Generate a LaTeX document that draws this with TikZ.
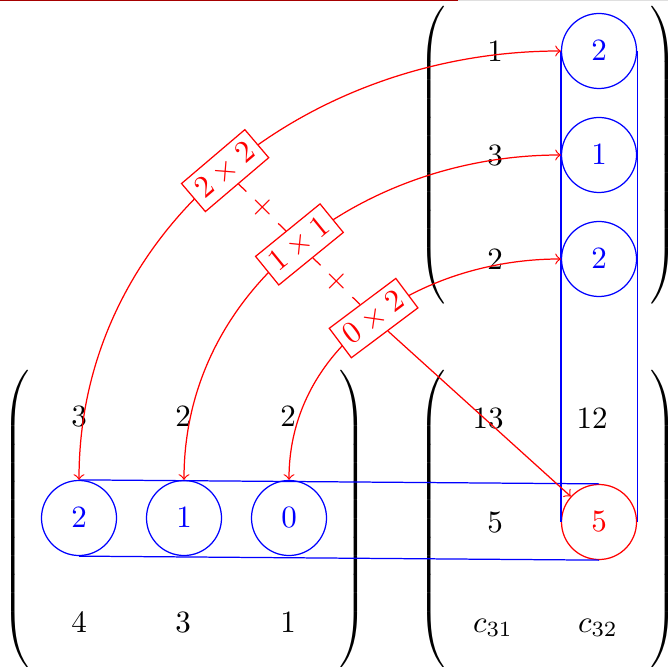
\documentclass[tikz,border=0pt]{standalone}
\usepackage{tikz}
\usepackage{xcolor}
\newcommand{\Parentesis}[2]{%
  $\nulldelimiterspace=0pt\delimitershortfall=0pt\delimiterfactor=1000
  \left#1\vcenter{\hbox{\rule{0pt}{95pt}}}\right#2$}

\begin{document}
\begin{tikzpicture}[x=0.3226pt,y=0.3226pt,
    parentesis/.style={inner sep=0pt},
    circA/.style={circle,draw=blue,text=blue,minimum size=24.2pt,inner sep=0pt},
    circC/.style={circle,draw=red,text=red,minimum size=24.2pt,inner sep=0pt},
    producto/.style={draw=red,text=red,fill=white,sloped,inner sep=2.3pt},
    suma/.style={text=red,fill=white,sloped},
    flecha/.style={red,<->}]
  \useasboundingbox (0,0) rectangle (668,666);
  \fill[red!65!black] (0,664.5) rectangle (458,666);
  \fill[gray!25] (458,664.5) rectangle (668,666);

  % matriz A
  \node[parentesis] (parA1) at (16,147) {\Parentesis{(}{.}};
  \node[parentesis] (parA2) at (353,147) {\Parentesis{.}{)}};
  \foreach \x/\valor/\nombre in {79/3/a11,183/2/a12,288/2/a13} {
    \node (\nombre) at (\x,249) {$\valor$};
  }
  \node[circA] (ca1) at (79,148) {$2$};
  \node[circA] (ca2) at (184,148) {$1$};
  \node[circA] (ca3) at (289,148) {$0$};
  \foreach \x/\valor/\nombre in {79/4/a31,183/3/a32,288/1/a33} {
    \node (\nombre) at (\x,43) {$\valor$};
  }

  % matriz B
  \node[parentesis] (parB1) at (432,511) {\Parentesis{(}{.}};
  \node[parentesis] (parB2) at (664,511) {\Parentesis{.}{)}};
  \node (b11) at (495,614) {$1$};
  \node (b21) at (495,510) {$3$};
  \node (b31) at (495,406) {$2$};
  \node[circA] (cb1) at (599,615) {$2$};
  \node[circA] (cb2) at (599,511) {$1$};
  \node[circA] (cb3) at (599,407) {$2$};

  % matriz C
  \node[parentesis] (parC1) at (432,147) {\Parentesis{(}{.}};
  \node[parentesis] (parC2) at (664,147) {\Parentesis{.}{)}};
  \node (c11) at (488,247) {$13$};
  \node (c12) at (592,247) {$12$};
  \node (c21) at (495,143) {$5$};
  \node[circC] (cc) at (599,144) {$5$};
  \node[anchor=base] (c31) at (493,34) {$c_{31}$};
  \node[anchor=base] (c32) at (598,34) {$c_{32}$};

  % bandas
  \draw[blue] (ca1.north) -- (cc.north);
  \draw[blue] (ca1.south) -- (cc.south);
  \draw[blue] (cb1.west) -- (cc.west);
  \draw[blue] (cb1.east) -- (cc.east);

  % productos
  \draw[flecha] (ca1.north) to[out=90,in=180]
    node[producto] (p1) {$2\times2$} (cb1.west);
  \draw[flecha] (ca2.north) to[out=90,in=180]
    node[producto] (p2) {$1\times1$} (cb2.west);
  \draw[flecha] (ca3.north) to[out=90,in=180]
    node[producto] (p3) {$0\times2$} (cb3.west);
  \draw[red] (p1) -- node[suma] {$+$} (p2);
  \draw[red] (p2) -- node[suma] {$+$} (p3);
  \draw[red,->] (p3) -- (cc);
\end{tikzpicture}
\end{document}
